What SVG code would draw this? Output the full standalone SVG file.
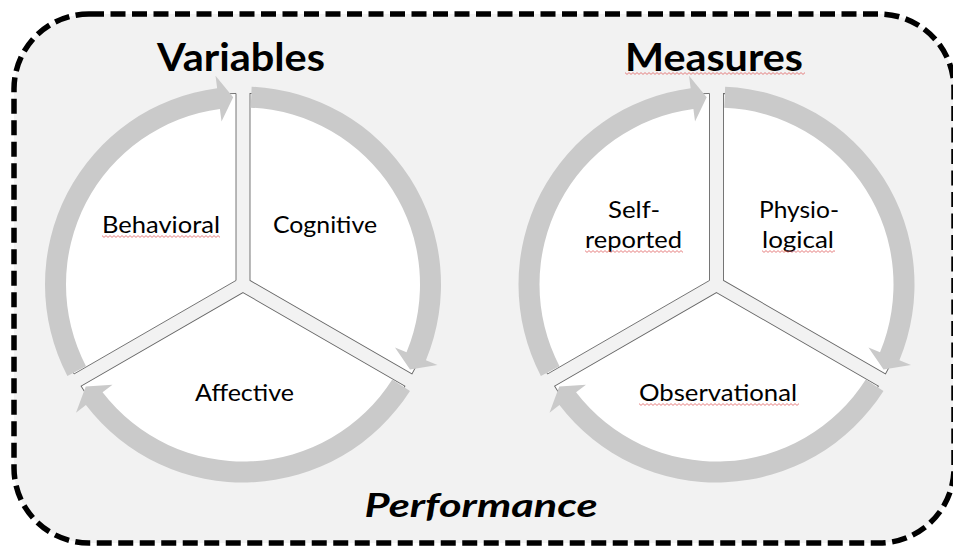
<svg xmlns="http://www.w3.org/2000/svg" width="953" height="549" viewBox="0 0 953 549">
  <style>
    .frame { fill: #f2f2f2; stroke: #000; stroke-width: 5.5; stroke-dasharray: 15 6.5; }
    .seg { fill: #ffffff; stroke: #666666; stroke-width: 0.9; }
    .arrow { fill: #cacaca; stroke: none; }
    .title { font-family: Lato, "Liberation Sans", sans-serif; font-weight: 700; font-size: 39px; fill: #000; }
    .label { font-family: Lato, "Liberation Sans", sans-serif; font-size: 24px; fill: #000; }
    .perf { font-family: Lato, "Liberation Sans", sans-serif; font-weight: 700; font-style: italic; font-size: 33px; fill: #000; }
  </style>
  <defs>
    <path id="seg" class="seg" d="M-7 -4.04 L-168.95 89.46 A187 187 0 0 1 -7 -191.04 Z"/>
    <path id="arc-arrow" class="arrow" d="M-175.63 91.43 A198 198 0 0 1 -25.84 -196.31 L-27.48 -208.70 L-9.81 -187.24 L-21.47 -163.09 L-23.10 -175.49 A177 177 0 0 0 -157.00 81.73 Z"/>
    <pattern id="squiggle" width="4" height="3" patternUnits="userSpaceOnUse">
      <path d="M0 0.6 L2 2.4 L4 0.6" fill="none" stroke="#e06060" stroke-width="0.8"/>
    </pattern>
  </defs>

  <rect id="performance-frame" class="frame" x="14" y="14" width="940" height="529" rx="75" ry="75"/>

  <g id="variables-title"><text class="title" x="241" y="71" text-anchor="middle" textLength="168" lengthAdjust="spacingAndGlyphs">Variables</text></g>
  <g id="measures-title">
    <text class="title" x="714" y="71" text-anchor="middle" textLength="178" lengthAdjust="spacingAndGlyphs">Measures</text>
    <rect x="0" y="0" width="180" height="3" fill="url(#squiggle)" transform="translate(625,72)"/>
  </g>

  <g id="behavioral">
    <use href="#seg" transform="translate(243,284.5)"/>
    <text class="label" x="161" y="233" text-anchor="middle" textLength="118" lengthAdjust="spacingAndGlyphs">Behavioral</text>
    <rect x="0" y="0" width="118" height="3" fill="url(#squiggle)" transform="translate(102,235)"/>
  </g>
  <g id="cognitive">
    <use href="#seg" transform="translate(243,284.5) rotate(120)"/>
    <text class="label" x="325" y="233" text-anchor="middle" textLength="104" lengthAdjust="spacingAndGlyphs">Cognitive</text>
  </g>
  <g id="affective">
    <use href="#seg" transform="translate(243,284.5) rotate(240)"/>
    <text class="label" x="244.5" y="401" text-anchor="middle" textLength="99" lengthAdjust="spacingAndGlyphs">Affective</text>
  </g>

  <g id="self-reported">
    <use href="#seg" transform="translate(716.5,284.5)"/>
    <text class="label" x="634" y="218" text-anchor="middle" textLength="52" lengthAdjust="spacingAndGlyphs">Self-</text>
    <text class="label" x="633.5" y="248" text-anchor="middle" textLength="97" lengthAdjust="spacingAndGlyphs">reported</text>
    <rect x="0" y="0" width="98" height="3" fill="url(#squiggle)" transform="translate(585,250)"/>
  </g>
  <g id="physiological">
    <use href="#seg" transform="translate(716.5,284.5) rotate(120)"/>
    <text class="label" x="799" y="218" text-anchor="middle" textLength="80" lengthAdjust="spacingAndGlyphs">Physio-</text>
    <text class="label" x="798" y="248" text-anchor="middle" textLength="72" lengthAdjust="spacingAndGlyphs">logical</text>
    <rect x="0" y="0" width="73" height="3" fill="url(#squiggle)" transform="translate(762,250)"/>
  </g>
  <g id="observational">
    <use href="#seg" transform="translate(716.5,284.5) rotate(240)"/>
    <text class="label" x="718" y="401" text-anchor="middle" textLength="158" lengthAdjust="spacingAndGlyphs">Observational</text>
    <rect x="0" y="0" width="160" height="3" fill="url(#squiggle)" transform="translate(639,403)"/>
  </g>

  <g id="connectors">
    <use href="#arc-arrow" transform="translate(243,284.5)"/>
    <use href="#arc-arrow" transform="translate(243,284.5) rotate(120)"/>
    <use href="#arc-arrow" transform="translate(243,284.5) rotate(240)"/>
    <use href="#arc-arrow" transform="translate(716.5,284.5)"/>
    <use href="#arc-arrow" transform="translate(716.5,284.5) rotate(120)"/>
    <use href="#arc-arrow" transform="translate(716.5,284.5) rotate(240)"/>
  </g>

  <g id="performance-label"><text class="perf" x="481" y="517" text-anchor="middle" textLength="233" lengthAdjust="spacingAndGlyphs">Performance</text></g>
</svg>
